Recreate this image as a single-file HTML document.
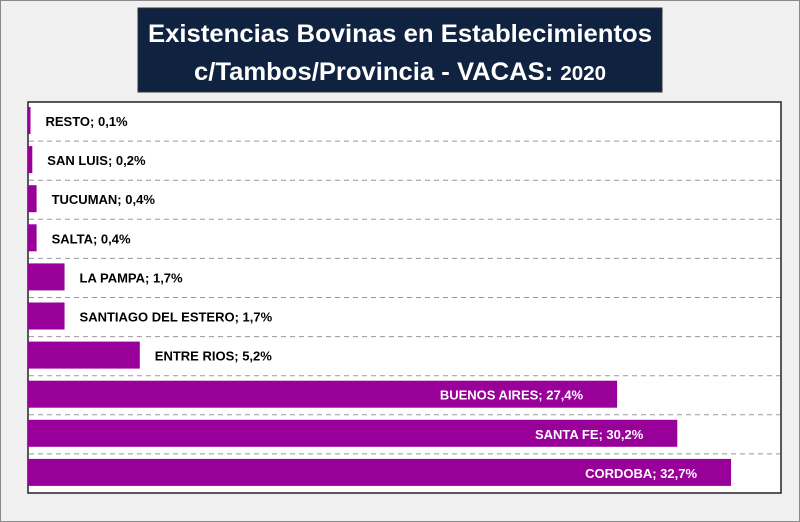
<!DOCTYPE html>
<html><head><meta charset="utf-8"><style>
body{margin:0;background:#f0f0f0;}
svg{display:block;font-family:"Liberation Sans",sans-serif;}
</style></head><body>
<svg width="800" height="522">
<rect x="0.5" y="0.5" width="799" height="521" fill="#f0f0f0" stroke="#8a8a8a" stroke-width="1"/>
<rect x="138" y="8" width="524" height="84" fill="#0f2240" stroke="#333"/>
<text x="400" y="42" text-anchor="middle" fill="#fff" font-weight="bold" font-size="25" textLength="504" lengthAdjust="spacingAndGlyphs">Existencias Bovinas en Establecimientos</text>
<text x="400" y="80" text-anchor="middle" fill="#fff" font-weight="bold" font-size="25" textLength="412" lengthAdjust="spacingAndGlyphs">c/Tambos/Provincia - VACAS: <tspan font-size="20">2020</tspan></text>
<rect x="28" y="102" width="753" height="391" fill="#fff" stroke="#222" stroke-width="1.5"/>
<g id="g"></g>
</svg>
<script>
const categories=["RESTO","SAN LUIS","TUCUMAN","SALTA","LA PAMPA","SANTIAGO DEL ESTERO","ENTRE RIOS","BUENOS AIRES","SANTA FE","CORDOBA"];
const values=[0.1,0.2,0.4,0.4,1.7,1.7,5.2,27.4,30.2,32.7];
const labels=["0,1%","0,2%","0,4%","0,4%","1,7%","1,7%","5,2%","27,4%","30,2%","32,7%"];
const ns="http://www.w3.org/2000/svg",g=document.getElementById('g');
const x0=28,pxPer=21.5,top0=102,rowH=39.1;
const xs=v=>x0+Math.max(v*pxPer,2.5);
const ys=i=>top0+i*rowH;
function mk(t,a){const e=document.createElementNS(ns,t);for(const k in a)e.setAttribute(k,a[k]);g.appendChild(e);return e;}
for(let i=1;i<categories.length;i++){
 const l=mk('line',{x1:29,x2:780,y1:ys(i),y2:ys(i),stroke:'#999','stroke-dasharray':'5,4'});
 
 
}
categories.forEach((c,i)=>{
 const xe=xs(values[i]);
 const b=mk('rect',{x:x0,y:ys(i)+5,width:xe-x0,height:27,fill:'#990099'});
 
 
 const inside=values[i]>15;
 const t=mk('text',{x:inside?xe-34:xe+15,y:ys(i)+24,'font-size':13,'font-weight':'bold',fill:inside?'#fff':'#000','text-anchor':inside?'end':'start'});
 t.textContent=c+'; '+labels[i];
 
 
});
</script>
</body></html>
